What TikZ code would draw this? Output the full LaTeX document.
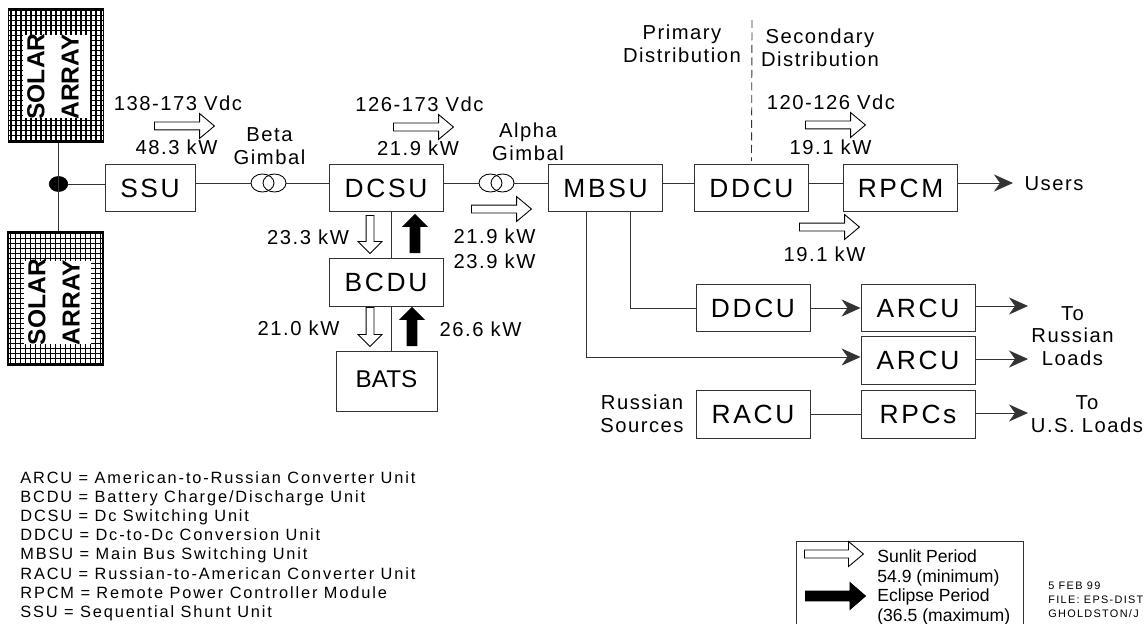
\documentclass[tikz,border=0pt]{standalone}
\usepackage{fontspec}
\setmainfont{Liberation Sans}
\newfontfamily\labelfamily[LetterSpace=7.5]{Liberation Sans}
\newfontfamily\unitfamily[LetterSpace=10]{Liberation Sans}
\newfontfamily\listfamily[LetterSpace=11.5]{Liberation Sans}
\newfontfamily\filefamily[LetterSpace=12]{Liberation Sans}
\usetikzlibrary{arrows.meta,positioning,shapes.arrows,shapes.geometric}
\definecolor{wiregray}{HTML}{333333}

\begin{document}
\begin{tikzpicture}[
  unitbox/.style={draw=wiregray, line width=0.5pt, minimum width=22.8mm, minimum height=9.5mm,
                  inner sep=0pt, font=\unitfamily\fontsize{15}{17}\selectfont},
  arraybox/.style={draw=black, line width=0.6pt, minimum width=19mm, minimum height=26.6mm,
                   path picture={\draw[step=0.1cm, black, line width=0.65pt, xshift=0.01cm, yshift=0.01cm]
                     ([shift={(-0.1,-0.1)}]path picture bounding box.south west) grid (path picture bounding box.north east);}},
  arraywindow/.style={fill=white, inner sep=0pt, minimum width=13.4mm, minimum height=16.6mm},
  arraylabel/.style={rotate=90, inner sep=0pt, align=left, font=\bfseries\fontsize{14}{19.5}\selectfont},
  gimbal/.style={draw=black, ellipse, line width=0.5pt, inner sep=0pt, minimum width=4.6mm, minimum height=3.6mm},
  wire/.style={draw=wiregray, line width=0.5pt},
  feed/.style={wire, -{Stealth[length=3.8mm, width=3.4mm, inset=1.2mm]}},
  sunlit/.style={single arrow, draw=black, fill=white, line width=0.5pt, anchor=tail, inner sep=0.07cm,
                 minimum height=12mm, minimum width=4.8mm, single arrow head extend=0.17cm,
                 single arrow tip angle=80},
  eclipse/.style={sunlit, fill=black, inner sep=0.09cm, minimum height=7.6mm, minimum width=4.6mm,
                  single arrow head extend=0.14cm, single arrow tip angle=90},
  flowlabel/.style={inner sep=0pt, align=center, font=\labelfamily\fontsize{11.5}{13}\selectfont},
]
  \useasboundingbox (0,0) rectangle (22.92,12.46);

  % Solar arrays and bus.
  \node[arraybox] (topArray) at (1.12,10.95) {};
  \node[arraywindow] (topWindow) at (1.13,10.93) {};
  \node[arraylabel] (topLabel) at (1.06,10.93) {SOLAR\\ARRAY};
  \node[arraybox] (bottomArray) at (1.11,6.49) {};
  \node[arraywindow] (bottomWindow) at (1.15,6.42) {};
  \node[arraylabel] (bottomLabel) at (1.08,6.42) {SOLAR\\ARRAY};
  \node[draw=black, fill=black, ellipse, inner sep=0pt, minimum width=3.7mm, minimum height=3mm] (busDot) at (1.17,8.78) {};
  \draw[wire] (busDot |- topArray.south) -- (busDot |- bottomArray.north);

  % Main run along the top.
  \node[unitbox, minimum width=18mm] (SSU) at (3.0,8.70) {SSU};
  \node[unitbox] (DCSU) at (7.72,8.70) {\raisebox{-0.05cm}{DCSU}};
  \node[unitbox] (MBSU) at (12.11,8.70) {MBSU};
  \node[unitbox] (topDDCU) at (15.03,8.70) {\raisebox{-0.04cm}{DDCU}};
  \node[unitbox] (RPCM) at (18.01,8.70) {RPCM};
  \node[gimbal] (betaLeft) at (5.25,8.80) {};
  \node[gimbal] (betaRight) at (5.49,8.80) {};
  \node[gimbal] (alphaLeft) at (9.81,8.80) {};
  \node[gimbal] (alphaRight) at (10.05,8.80) {};
  \node[flowlabel] (users) at (21.08,8.78) {Users};
  \coordinate (usersEnd) at (20.26,8.80);
  \draw[wire] (busDot) -- (SSU.west |- busDot);
  \draw[wire] (SSU.east |- betaLeft) -- (betaLeft.west);
  \draw[wire] (betaRight.east) -- (DCSU.west |- betaRight);
  \draw[wire] (DCSU.east |- alphaLeft) -- (alphaLeft.west);
  \draw[wire] (alphaRight.east) -- (MBSU.west |- alphaRight);
  \draw[wire] (MBSU.east |- usersEnd) -- (topDDCU.west |- usersEnd);
  \draw[wire] (topDDCU.east |- usersEnd) -- (RPCM.west |- usersEnd);
  \draw[feed] (RPCM.east |- usersEnd) -- (usersEnd);

  % Battery branch.
  \node[unitbox] (BCDU) at (7.72,6.81) {BCDU};
  \node[unitbox, minimum width=20.2mm, minimum height=12mm, font=\fontsize{13.8}{16}\selectfont] (BATS) at (7.73,4.84) {\raisebox{0.08cm}{BATS}};
  \coordinate (batteryLine) at (7.82,6.81);
  \draw[wire] (batteryLine |- DCSU.south) -- (batteryLine |- BCDU.north);
  \draw[wire] (batteryLine |- BCDU.south) -- (batteryLine |- BATS.north);

  % Russian segment branches.
  \node[unitbox] (lowDDCU) at (15.06,6.30) {DDCU};
  \node[unitbox] (upperARCU) at (18.36,6.30) {ARCU};
  \node[unitbox] (lowerARCU) at (18.36,5.25) {ARCU};
  \node[unitbox] (RACU) at (15.06,4.17) {RACU};
  \node[unitbox] (RPCs) at (18.36,4.17) {RPCs};
  \coordinate (mbsuInner) at (11.73,8.70);
  \coordinate (mbsuOuter) at (12.60,8.70);
  \coordinate (lowerFeed) at (18.36,5.32);
  \draw[wire] (mbsuOuter |- MBSU.south) |- (lowDDCU.west);
  \draw[feed] (mbsuInner |- MBSU.south) |- (lowerARCU.west |- lowerFeed);
  \draw[feed] (lowDDCU.east) -- (upperARCU.west);
  \draw[wire] (RACU.east) -- (RPCs.west);
  \coordinate (upperEnd) at (20.56,6.34);
  \coordinate (lowerEnd) at (20.56,5.28);
  \coordinate (usEnd) at (20.56,4.20);
  \draw[feed] (upperARCU.east |- upperEnd) -- (upperEnd);
  \draw[feed] (lowerARCU.east |- lowerEnd) -- (lowerEnd);
  \draw[feed] (RPCs.east |- usEnd) -- (usEnd);

  % Primary and secondary divide.
  \coordinate (divideTop) at (15.04,12.06);
  \draw[wire, dash pattern=on 1.6mm off 0.9mm] (divideTop) -- ([yshift=0.06cm]topDDCU.north);
  \node[flowlabel] (primary) at (13.64,11.58) {Primary\\Distribution};
  \node[flowlabel] (secondary) at (16.40,11.51) {Secondary\\Distribution};

  % Power flow arrows.
  \node[sunlit] (flowSSU) at (3.08,9.94) {};
  \node[sunlit] (flowDCSU) at (7.86,9.92) {};
  \node[sunlit] (flowAlpha) at (9.42,8.28) {};
  \node[sunlit] (flowUpper) at (16.10,9.96) {};
  \node[sunlit] (flowLower) at (15.98,7.92) {};
  \node[sunlit, rotate=-90, minimum height=7.6mm, minimum width=4.6mm, single arrow head extend=0.16cm, single arrow tip angle=90] (chargeTop) at (7.40,8.16) {};
  \node[sunlit, rotate=-90, minimum height=7.8mm, minimum width=4.6mm, single arrow head extend=0.16cm, single arrow tip angle=90] (chargeLow) at (7.40,6.32) {};
  \node[eclipse, rotate=90] (dischargeTop) at (8.30,7.40) {};
  \node[eclipse, rotate=90] (dischargeLow) at (8.24,5.54) {};

  % Flow values.
  \node[flowlabel] (volts) at (3.56,10.40) {138-173 Vdc};
  \node[flowlabel] (ssuPower) at (3.53,9.52) {48.3 kW};
  \node[flowlabel] (beta) at (5.39,9.54) {Beta\\Gimbal};
  \node[flowlabel] (dcsuVolts) at (8.39,10.38) {126-173 Vdc};
  \node[flowlabel] (dcsuPower) at (8.36,9.50) {21.9 kW};
  \node[flowlabel] (alpha) at (10.56,9.62) {Alpha\\Gimbal};
  \node[flowlabel] (alphaSun) at (9.89,7.74) {21.9 kW};
  \node[flowlabel] (alphaDark) at (9.89,7.24) {23.9 kW};
  \node[flowlabel] (batteryOut) at (9.61,5.88) {26.6 kW};
  \node[flowlabel] (chargeIn) at (6.16,7.72) {23.3 kW};
  \node[flowlabel] (batteryIn) at (5.97,5.90) {21.0 kW};
  \node[flowlabel] (rpcmVolts) at (16.62,10.42) {120-126 Vdc};
  \node[flowlabel] (rpcmPower) at (16.61,9.52) {19.1 kW};
  \node[flowlabel] (lowPower) at (16.49,7.38) {19.1 kW};
  \node[flowlabel] (toRussian) at (21.45,5.74) {To\\Russian\\Loads};
  \node[flowlabel] (toUS) at (21.74,4.18) {To\\U.S. Loads};
  \node[flowlabel] (sources) at (12.84,4.18) {Russian\\Sources};

  % Abbreviations.
  \node[inner sep=0pt, anchor=west, align=left, font=\listfamily\fontsize{9.3}{10.93}\selectfont] (abbrev) at (0.40,1.54)
    {ARCU = American-to-Russian Converter Unit\\
     BCDU = Battery Charge/Discharge Unit\\
     DCSU = Dc Switching Unit\\
     DDCU = Dc-to-Dc Conversion Unit\\
     MBSU = Main Bus Switching Unit\\
     RACU = Russian-to-American Converter Unit\\
     RPCM = Remote Power Controller Module\\
     SSU = Sequential Shunt Unit};

  % Key, running off the foot of the page.
  \node[draw=wiregray, line width=0.5pt, minimum width=45.4mm, minimum height=20mm, anchor=north] (keyBox) at (18.19,1.64) {};
  \node[sunlit, minimum height=11.8mm, minimum width=5mm] (keySun) at (16.08,1.38) {};
  \node[sunlit, fill=black, inner sep=0.09cm, minimum width=5.2mm, single arrow head extend=0.17cm, single arrow tip angle=82] (keyDark) at (16.10,0.54) {};
  \node[inner sep=0pt, anchor=west, align=left, font=\fontsize{10}{11.1}\selectfont] (keyText) at (17.54,0.71)
    {Sunlit Period\\54.9 (minimum)\\Eclipse Period\\(36.5 (maximum)};

  % File stamp.
  \node[inner sep=0pt, anchor=west, align=left, font=\filefamily\fontsize{6.2}{8}\selectfont] (stamp) at (20.96,0.46)
    {5 FEB 99\\FILE: EPS-DIST\\GHOLDSTON/J};
\end{tikzpicture}
\end{document}
